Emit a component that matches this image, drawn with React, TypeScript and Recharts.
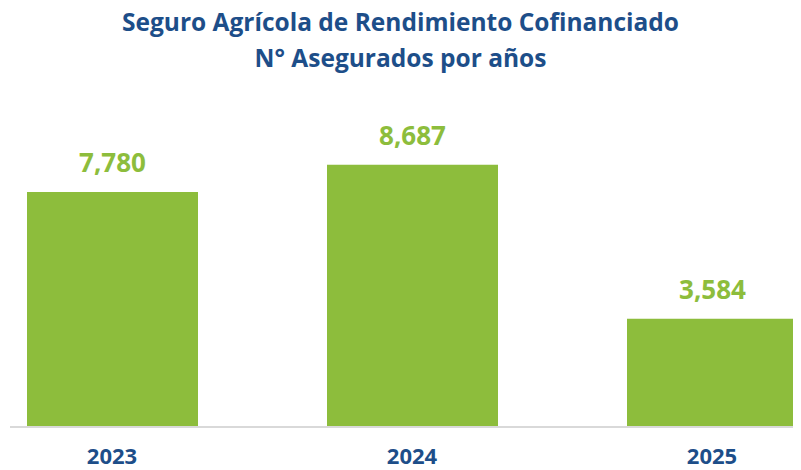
import { BarChart, Bar, XAxis, YAxis, LabelList } from "recharts";

const years = ["2023", "2024", "2025"];
const asegurados = [7780, 8687, 3584];
const titleLines = ["Seguro Agrícola de Rendimiento Cofinanciado", "N° Asegurados por años"];

const GREEN = "#8dbd3c";
const BLUE = "#1d4e89";
const FONT = "'Open Sans', 'Noto Sans', sans-serif";

const data = years.map((year, i) => ({ year, value: asegurados[i] }));

export default function App(): React.ReactElement {
  return (
    <div style={{ position: "relative", width: 793, height: 462, fontFamily: FONT }}>
      <div
        style={{
          position: "absolute",
          top: -4,
          left: -8,
          width: 801,
          textAlign: "center",
          color: BLUE,
          fontWeight: 700,
          fontSize: 24.5,
          lineHeight: "36px",
          zIndex: 1,
        }}
      >
        {titleLines.map((t) => (
          <div key={t}>{t}</div>
        ))}
      </div>
      <BarChart
        width={793}
        height={462}
        data={data}
        margin={{ top: 117, right: 0, bottom: 3, left: 2 }}
      >
        <XAxis
          dataKey="year"
          height={40}
          padding={{ left: -48, right: -61 }}
          axisLine={{ stroke: "#d9d9d9", strokeWidth: 2 }}
          tickLine={false}
          tick={{ fill: BLUE, fontSize: 22, fontWeight: 700, fontFamily: FONT }}
          tickMargin={15}
        />
        <YAxis hide domain={[0, 10000]} />
        <Bar dataKey="value" fill={GREEN} barSize={171} isAnimationActive={false}>
          <LabelList
            dataKey="value"
            position="top"
            offset={20}
            formatter={(v: number) => v.toLocaleString("en-US")}
            style={{ fill: GREEN, fontSize: 26, fontWeight: 700, fontFamily: FONT }}
          />
        </Bar>
      </BarChart>
    </div>
  );
}
